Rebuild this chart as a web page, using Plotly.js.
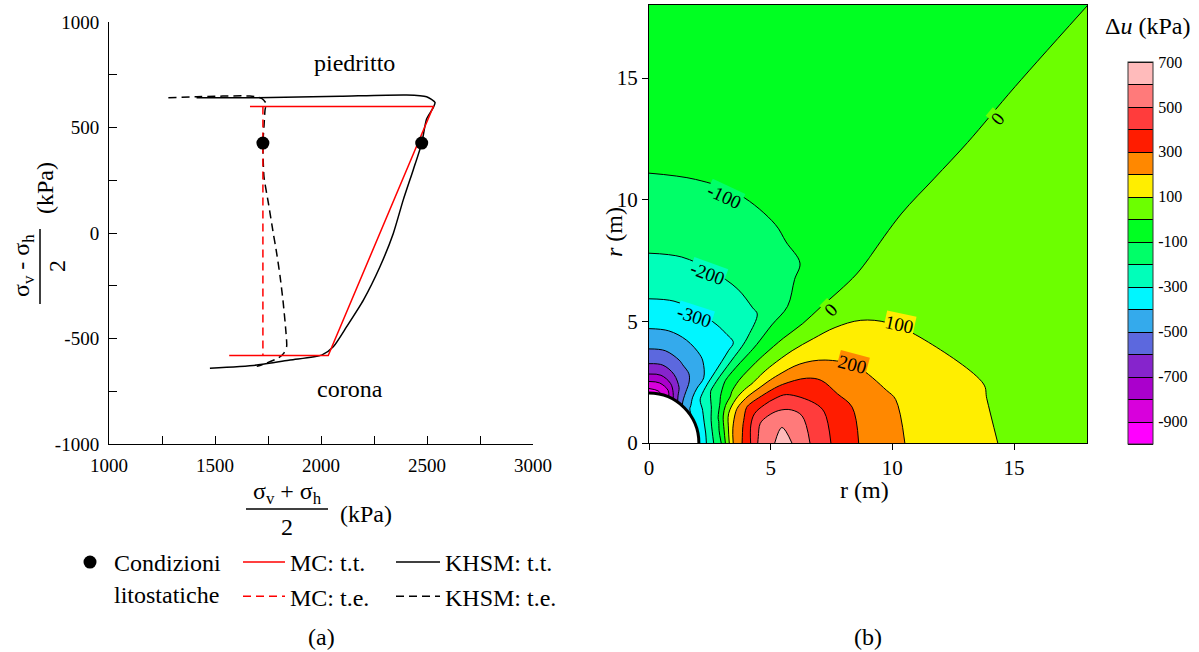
<!DOCTYPE html>
<html><head><meta charset="utf-8">
<script src="https://cdn.plot.ly/plotly-3.0.1.min.js"></script>
<style>html,body{margin:0;padding:0;background:#fff;} #chart{width:1199px;height:652px;}</style>
</head><body><div id="chart"></div>
<script>
// ---------- Panel (a): stress paths (p = (sv+sh)/2, q = (sv-sh)/2, kPa) ----------
const litoP = [1726, 2475];
const litoQ = [426, 426];
const mcTotP = [1665, 2530, 2034, 1567];
const mcTotQ = [599, 599, -581, -581];
const mcEffP = [1726, 1726];
const mcEffQ = [599, -581];
const khsmTotP = [1413, 1697, 2090, 2404, 2498, 2538, 2530, 2498, 2475, 2435, 2388, 2341, 2278, 2200, 2121, 2058, 2003, 1854, 1697, 1476];
const khsmTotQ = [641, 641, 648, 654, 646, 619, 595, 540, 425, 299, 157, -2, -160, -318, -444, -539, -579, -602, -626, -641];
const khsmEffP = [1280, 1413, 1665, 1720, 1741, 1736, 1731, 1726, 1731, 1752, 1775, 1791, 1807, 1822, 1835, 1838, 1825, 1799, 1744, 1697];
const khsmEffQ = [641, 646, 649, 638, 614, 583, 504, 425, 267, 141, -2, -96, -206, -332, -474, -537, -569, -592, -616, -632];
const pTicks = [1000, 1500, 2000, 2500, 3000];
const qTicks = [-1000, -500, 0, 500, 1000];
const qTickText = ['-1000', '-500', '0', '500', '1000'];

// ---------- Panel (b): excess pore pressure du (kPa) read along rays ----------
const holeRadius = 2.05;
const radius = [2.05, 2.3, 2.6, 3.0, 3.5, 4.0, 4.5, 5.0, 5.5, 6.0, 7.0, 8.0, 9.0, 10.0, 11.0, 12.0, 14.0, 16.0, 18.0, 21.0, 26.0];
const angleDeg = [0, 10, 20, 30, 40, 50, 60, 70, 80, 90];
const du_a0  = [-380, -320, -220, -90, 225, 340, 510, 575, 650, 585, 450, 345, 272, 218, 183, 158, 103, 85, 70, 58, 45];
const du_a10 = [-385, -325, -215, -75, 200, 320, 480, 550, 575, 550, 430, 335, 262, 210, 176, 150, 99, 82, 68, 55, 43];
const du_a20 = [-390, -340, -240, -110, 110, 260, 335, 370, 390, 390, 345, 260, 205, 170, 130, 103, 78, 63, 52, 42, 33];
const du_a30 = [-400, -360, -290, -190, -70, 25, 80, 105, 130, 145, 155, 145, 128, 102, 85, 70, 52, 40, 33, 27, 20];
const du_a40 = [-420, -385, -330, -250, -170, -115, -85, -65, -55, -48, -40, -40, -25, -16, -8, 2, 16, 18, 20, 22, 20];
const du_a50 = [-520, -470, -440, -420, -400, -375, -345, -318, -295, -260, -195, -170, -115, -92, -78, -68, -55, -45, -40, -30, -20];
const du_a60 = [-680, -620, -580, -540, -470, -415, -375, -340, -305, -280, -215, -165, -132, -106, -90, -80, -66, -56, -50, -44, -36];
const du_a70 = [-860, -800, -700, -600, -515, -455, -400, -360, -318, -285, -225, -178, -145, -118, -97, -87, -72, -62, -55, -48, -40];
const du_a80 = [-930, -870, -770, -650, -552, -478, -418, -368, -330, -295, -238, -188, -158, -128, -100, -89, -74, -64, -57, -49, -41];
const du_a90 = [-950, -885, -775, -650, -555, -480, -420, -370, -333, -295, -240, -190, -160, -130, -101, -90, -75, -65, -58, -50, -42];
const levelStart = -1000, levelEnd = 700, levelStep = 100;
const bandColors = ['#FF00FF','#D800DC','#AA00CC','#8624CC','#5C68DE','#34AAEC','#00F6FF','#00FFBA','#00FF68','#00FF22','#6CFF00','#FFEE00','#FF8800','#FF1C00','#FF3C3C','#FF7A7A','#FFBBBB'];
const cbTicks = [700, 500, 300, 100, -100, -300, -500, -700, -900];
const rTicks = [0, 5, 10, 15];

const W = 1199, H = 652;
const px = v => v / W, py = v => 1 - v / H;

const duGrid = [du_a0, du_a10, du_a20, du_a30, du_a40, du_a50, du_a60, du_a70, du_a80, du_a90];
const carpetX = angleDeg.map(t => radius.map(r => r * Math.cos(t * Math.PI / 180)));
const carpetY = angleDeg.map(t => radius.map(r => r * Math.sin(t * Math.PI / 180)));
const nb = bandColors.length;
const colorscale = [];
bandColors.forEach((c, k) => { colorscale.push([k / nb, c]); colorscale.push([(k + 1) / nb, c]); });

const FONT = '"Liberation Serif", "Times New Roman", Times, serif';
const hidden = {showgrid: false, showline: false, showticklabels: 'none', startline: false, endline: false, minorgridcount: 0, gridcolor: 'rgba(0,0,0,0)', linecolor: 'rgba(0,0,0,0)'};

const traces = [
  {type: 'scatter', x: khsmTotP, y: khsmTotQ, mode: 'lines', line: {color: 'black', width: 1.5, shape: 'spline', smoothing: 0.6}, name: 'KHSM: t.t.', legend: 'legend3', showlegend: true, xaxis: 'x', yaxis: 'y'},
  {type: 'scatter', x: khsmEffP, y: khsmEffQ, mode: 'lines', line: {color: 'black', width: 1.5, dash: '8px,5px', shape: 'spline', smoothing: 0.6}, name: 'KHSM: t.e.', legend: 'legend3', showlegend: true, xaxis: 'x', yaxis: 'y'},
  {type: 'scatter', x: mcTotP, y: mcTotQ, mode: 'lines', line: {color: '#FF0000', width: 1.5}, name: 'MC: t.t.', legend: 'legend2', showlegend: true, xaxis: 'x', yaxis: 'y'},
  {type: 'scatter', x: mcEffP, y: mcEffQ, mode: 'lines', line: {color: '#FF0000', width: 1.5, dash: '8px,5px'}, name: 'MC: t.e.', legend: 'legend2', showlegend: true, xaxis: 'x', yaxis: 'y'},
  {type: 'scatter', x: litoP, y: litoQ, mode: 'markers', marker: {color: 'black', size: 13}, name: 'Condizioni<br>litostatiche', legend: 'legend', showlegend: true, xaxis: 'x', yaxis: 'y'},
  {type: 'carpet', carpet: 'polar', a: radius, b: angleDeg, x: carpetX, y: carpetY, xaxis: 'x2', yaxis: 'y2', aaxis: hidden, baxis: hidden},
  {type: 'contourcarpet', carpet: 'polar', a: radius, b: angleDeg, z: duGrid, autocontour: false,
   contours: {start: levelStart, end: levelEnd, size: levelStep, coloring: 'fill', showlines: true},
   line: {color: 'black', width: 1}, colorscale: colorscale, zmin: levelStart, zmax: levelEnd, showlegend: false,
   colorbar: {x: px(1128), xanchor: 'left', xref: 'paper', y: py(253), yanchor: 'middle', yref: 'paper', thickness: 25, thicknessmode: 'pixels', len: 382, lenmode: 'pixels',
              tickmode: 'array', tickvals: cbTicks, ticktext: cbTicks.map(String), ticks: 'outside', ticklen: 2, tickcolor: 'rgba(0,0,0,0)',
              tickfont: {family: FONT, size: 16}, outlinewidth: 1, outlinecolor: '#333', xpad: 0, ypad: 0}}
];

const axisBase = {showgrid: false, zeroline: false, showline: true, linecolor: 'black', linewidth: 1, tickcolor: 'black'};
const A = (xp, yp, text, extra) => Object.assign({xref: 'paper', yref: 'paper', x: px(xp), y: py(yp), text: text, showarrow: false, xanchor: 'center', yanchor: 'middle', font: {family: FONT, size: 24, color: 'black'}}, extra || {});
const D = (x, y, text, angle, bg) => ({xref: 'x2', yref: 'y2', x: x, y: y, text: text, showarrow: false, textangle: angle, bgcolor: bg, borderpad: 0, font: {family: FONT, size: 19, color: 'black'}});
const legFont = {family: FONT, size: 24, color: 'black'};

const layout = {
  width: W, height: H, margin: {l: 0, r: 0, t: 0, b: 0},
  paper_bgcolor: 'white', plot_bgcolor: 'white', showlegend: true,
  font: {family: FONT, size: 19, color: 'black'},
  xaxis: Object.assign({}, axisBase, {domain: [px(109), px(533)], range: [1000, 3000], anchor: 'y', tickmode: 'array', tickvals: pTicks, ticks: 'inside', ticklen: 8, ticklabelstandoff: 4,
          tickfont: {family: FONT, size: 19, color: 'black'},
          minor: {tickmode: 'linear', tick0: 1000, dtick: 250, ticks: 'inside', ticklen: 8, tickcolor: 'black', showgrid: false}}),
  yaxis: Object.assign({}, axisBase, {domain: [py(444), py(22)], range: [-1000, 1000], anchor: 'x', tickmode: 'array', tickvals: qTicks, ticktext: qTickText, ticks: 'inside', ticklen: 8, ticklabelstandoff: 5,
          tickfont: {family: FONT, size: 19, color: 'black'},
          minor: {tickmode: 'linear', tick0: -1000, dtick: 250, ticks: 'inside', ticklen: 8, tickcolor: 'black', showgrid: false}}),
  xaxis2: Object.assign({}, axisBase, {domain: [px(649), px(1087)], range: [0, 18], anchor: 'y2', tickmode: 'array', tickvals: rTicks, ticks: 'outside', ticklen: 6, mirror: true,
          tickfont: {family: FONT, size: 21, color: 'black'}}),
  yaxis2: Object.assign({}, axisBase, {domain: [py(443), py(5)], range: [0, 18], anchor: 'x2', tickmode: 'array', tickvals: rTicks, ticks: 'outside', ticklen: 6, mirror: true,
          tickfont: {family: FONT, size: 21, color: 'black'}}),
  legend: {x: px(66), y: py(540), xanchor: 'left', yanchor: 'top', font: legFont, bgcolor: 'rgba(0,0,0,0)', valign: 'top', itemwidth: 38},
  legend2: {x: px(238), y: py(540), xanchor: 'left', yanchor: 'top', font: legFont, bgcolor: 'rgba(0,0,0,0)', itemwidth: 42, tracegroupgap: 0},
  legend3: {x: px(391), y: py(540), xanchor: 'left', yanchor: 'top', font: legFont, bgcolor: 'rgba(0,0,0,0)', itemwidth: 44, tracegroupgap: 0},
  shapes: [
    {type: 'circle', xref: 'x2', yref: 'y2', x0: -holeRadius, x1: holeRadius, y0: -holeRadius, y1: holeRadius, line: {color: 'black', width: 3}, fillcolor: 'rgba(0,0,0,0)', layer: 'above'},
    {type: 'line', xref: 'paper', yref: 'paper', x0: px(246), x1: px(328), y0: py(509), y1: py(509), line: {color: 'black', width: 1.5}},
    {type: 'line', xref: 'paper', yref: 'paper', x0: px(40), x1: px(40), y0: py(229), y1: py(304), line: {color: 'black', width: 1.5}}
  ],
  annotations: [
    A(287, 493, 'σ<sub>v</sub> + σ<sub>h</sub>'),
    A(287, 527, '2'),
    A(366, 514, '(kPa)'),
    A(23, 266, 'σ<sub>v</sub> - σ<sub>h</sub>', {textangle: -90}),
    A(57, 266, '2', {textangle: -90}),
    A(45, 188, '(kPa)', {textangle: -90}),
    {xref: 'x', yref: 'y', x: 2160, y: 804, text: 'piedritto', showarrow: false, font: {family: FONT, size: 24, color: 'black'}},
    {xref: 'x', yref: 'y', x: 2139, y: -738, text: 'corona', showarrow: false, font: {family: FONT, size: 24, color: 'black'}},
    A(321, 637, '(a)'),
    A(868, 637, '(b)'),
    A(864, 490, 'r (m)'),
    A(614, 232, '<i>r</i> (m)', {textangle: -90}),
    A(1147, 26, 'Δ<i>u</i> (kPa)'),
    D(3.11, 10.14, '-100', 25, '#00FF68'),
    D(2.42, 6.96, '-200', 20, '#00FFBA'),
    D(1.88, 5.21, '-300', 18, '#00F6FF'),
    D(14.34, 13.32, '0', -50, '#6CFF00'),
    D(7.49, 5.48, '0', -45, '#6CFF00'),
    D(10.3, 4.86, '100', 12, '#FFEE00'),
    D(8.38, 3.22, '200', 15, '#FF8800')
  ]
};

Plotly.newPlot('chart', traces, layout, {displayModeBar: false, staticPlot: true});
</script>
</body></html>
